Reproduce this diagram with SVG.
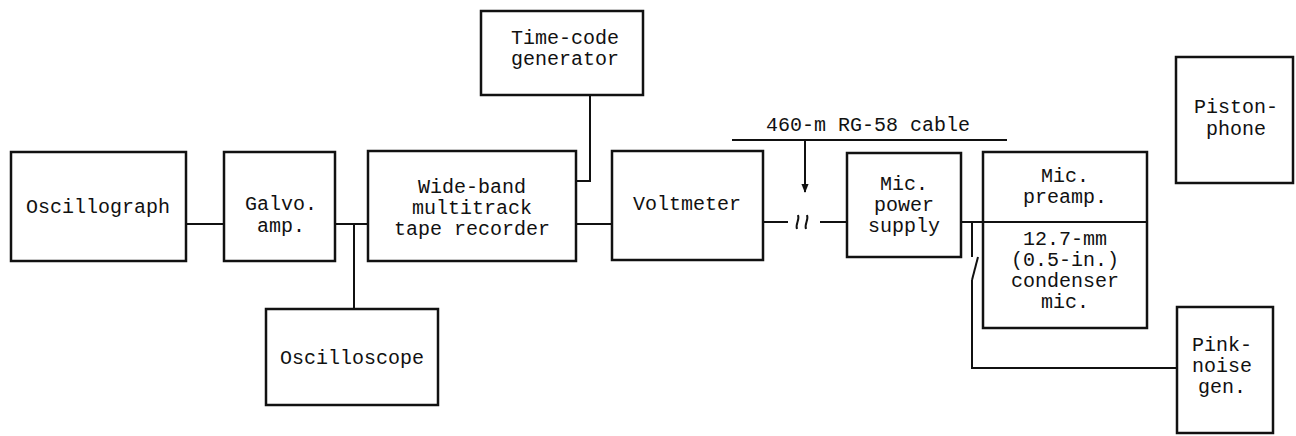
<svg xmlns="http://www.w3.org/2000/svg" width="1296" height="436" viewBox="0 0 1296 436">
<style>
.box{fill:#fff;stroke:#111;stroke-width:2.5}
.ln{fill:none;stroke:#111;stroke-width:2}
text{font-family:"Liberation Mono","DejaVu Sans Mono",monospace;font-size:20px;fill:#111;text-anchor:middle}
</style>
<defs>
<marker id="ah" viewBox="0 0 10 10" refX="9" refY="5" markerWidth="9" markerHeight="9" orient="auto" markerUnits="userSpaceOnUse">
<path d="M0,1 L10,5 L0,9 Z" fill="#111"/>
</marker>
</defs>
<g id="connectors">
<line class="ln" x1="186" y1="224" x2="224" y2="224"/>
<line class="ln" x1="335" y1="224" x2="368" y2="224"/>
<line class="ln" x1="354" y1="224" x2="354" y2="309"/>
<polyline class="ln" points="590,95 590,181 576,181"/>
<line class="ln" x1="576" y1="224" x2="612" y2="224"/>
<line class="ln" x1="763" y1="222" x2="788" y2="222"/>
<path class="ln" d="M797,229 C795,224 800,220 798,215 M806,229 C804,224 809,220 807,215"/>
<line class="ln" x1="820" y1="222" x2="847" y2="222"/>
<line class="ln" x1="732" y1="140" x2="1007" y2="140"/>
<line class="ln" x1="805" y1="140" x2="805" y2="192" marker-end="url(#ah)"/>
<line class="ln" x1="961" y1="222" x2="983" y2="222"/>
<polyline class="ln" points="972,222 972,257"/>
<line class="ln" x1="978" y1="257" x2="972" y2="280"/>
<polyline class="ln" points="972,280 972,368 1177,368"/>
</g>
<g id="oscillograph"><rect class="box" x="11" y="152" width="175" height="109"/><text x="98" y="213">Oscillograph</text></g>
<g id="galvo"><rect class="box" x="224" y="152" width="111" height="109"/><text x="281" y="210">Galvo.</text><text x="281" y="232">amp.</text></g>
<g id="tape"><rect class="box" x="368" y="151" width="208" height="110"/><text x="472" y="193">Wide-band</text><text x="472" y="214">multitrack</text><text x="472" y="235">tape recorder</text></g>
<g id="timecode"><rect class="box" x="481" y="11" width="162" height="84"/><text x="565" y="44">Time-code</text><text x="565" y="65">generator</text></g>
<g id="oscilloscope"><rect class="box" x="266" y="309" width="172" height="96"/><text x="352" y="364">Oscilloscope</text></g>
<g id="voltmeter"><rect class="box" x="612" y="151" width="151" height="109"/><text x="687" y="210">Voltmeter</text></g>
<g id="cablelabel"><text x="868" y="131">460-m RG-58 cable</text></g>
<g id="powersupply"><rect class="box" x="847" y="153" width="114" height="104"/><text x="904" y="190">Mic.</text><text x="904" y="211">power</text><text x="904" y="232">supply</text></g>
<g id="micunit"><rect class="box" x="983" y="152" width="164" height="176"/><line class="ln" x1="983" y1="222" x2="1147" y2="222"/><text x="1065" y="182">Mic.</text><text x="1065" y="203">preamp.</text><text x="1065" y="245">12.7-mm</text><text x="1065" y="266">(0.5-in.)</text><text x="1065" y="287">condenser</text><text x="1065" y="308">mic.</text></g>
<g id="pistonphone"><rect class="box" x="1176" y="57" width="117" height="126"/><text x="1236" y="113">Piston-</text><text x="1236" y="135">phone</text></g>
<g id="pinknoise"><rect class="box" x="1177" y="307" width="96" height="126"/><text x="1222" y="351">Pink-</text><text x="1222" y="372">noise</text><text x="1222" y="393">gen.</text></g>
</svg>
